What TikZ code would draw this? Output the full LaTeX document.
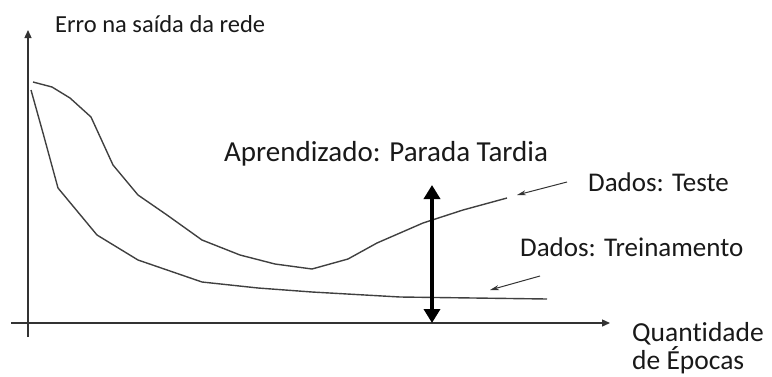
\documentclass[tikz,border=0pt]{standalone}
\usepackage{fontspec}
\setmainfont{Carlito}[Ligatures=NoCommon]
\usetikzlibrary{arrows.meta}
\tikzset{
  eixo/.style={line width=1.4pt, color=black!80, -{Triangle[length=8pt,width=7pt]}},
  curva/.style={line width=1.4pt, color=black!75},
  seta/.style={line width=1pt, color=black!80, -{Stealth[length=9pt,width=5pt]}},
  rotulo/.style={anchor=base west, inner sep=0pt, font=\fontsize{27}{27}\selectfont, color=black!90},
}
\begin{document}
\begin{tikzpicture}[x=1pt,y=-1pt]
    \useasboundingbox (0,0) rectangle (772,376);
    % Eixos
    \coordinate (origem) at (28,323);
    \coordinate (ytopo) at (28,30);
    \coordinate (xfim) at (610,323);
    \draw[eixo] (28,337) -- (ytopo);
    \draw[eixo] (11,323) -- (xfim);
    % Curva de teste
    \draw[curva] (33,82) -- (52,87) -- (70,98) -- (91,117) -- (113,165) -- (138,195)
        -- (167,215) -- (202,240) -- (240,255) -- (275,264) -- (312,269) -- (348,259)
        -- (377,243) -- (400,233) -- (423,223) -- (463,210) -- (507,198);
    % Curva de treinamento
    \draw[curva] (31,90) -- (43,133) -- (58,188) -- (97,235) -- (138,260) -- (202,282)
        -- (258,288) -- (312,292) -- (400,297) -- (547,299);
    % Parada
    \coordinate (paradatopo) at (432,185);
    \coordinate (paradabase) at (432,323);
    \draw[line width=4pt, {Triangle[length=14pt,width=16pt]}-{Triangle[length=14pt,width=16pt]}]
        (paradatopo) -- (paradabase);
    % Textos
    \node[rotulo, font=\fontsize{24.5}{24.5}\selectfont] (erro) at (55,32) {Erro na saída da rede};
    \node[rotulo, font=\fontsize{29}{29}\selectfont] (aprend) at (224,161) {Aprendizado: Parada Tardia};
    \node[rotulo] (teste) at (588,191) {Dados: Teste};
    \node[rotulo] (treino) at (520,256) {Dados: Treinamento};
    \node[rotulo, font=\fontsize{27.5}{27.5}\selectfont] (epocas1) at (632,341) {Quantidade};
    \node[rotulo, font=\fontsize{27.5}{27.5}\selectfont] (epocas2) at (632,369.5) {de Épocas};
    % Setas dos rotulos
    \coordinate (testeini) at (567,182);
    \coordinate (testefim) at (517,195);
    \coordinate (treinoini) at (540,276);
    \coordinate (treinofim) at (490,290);
    \draw[seta] (testeini) -- (testefim);
    \draw[seta] (treinoini) -- (treinofim);
\end{tikzpicture}
\end{document}
